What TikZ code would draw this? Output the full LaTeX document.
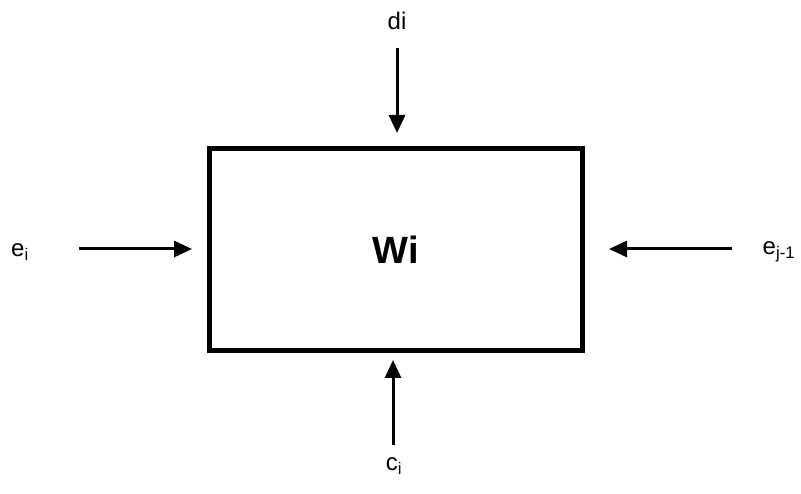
\documentclass[tikz,border=0pt]{standalone}
\usepackage{fontspec}
\setmainfont{Liberation Sans}
\usetikzlibrary{arrows.meta}
\tikzset{
  flow/.style={-{Triangle[length=18pt,width=16pt]}, line width=3pt},
  lbl/.style={font=\fontsize{24}{26}\selectfont, inner sep=0pt}
}
\begin{document}
\begin{tikzpicture}[x=1pt, y=-1pt]
    \useasboundingbox (0,0) rectangle (801,494);
    \node[draw, line width=5pt, minimum width=373pt, minimum height=202pt, inner sep=0pt,
          font=\fontsize{38}{40}\selectfont\bfseries] (box) at (396,249.5) {Wi};
    % labels
    \node[lbl] (di) at (397,21) {di};
    \node[lbl] (ci) at (394,466) {c\textsubscript{i}};
    \node[lbl] (ei) at (20,252) {e\textsubscript{i}};
    \node[lbl] (ej) at (779,252) {e\textsubscript{j-1}};
    % arrow ends
    \coordinate (din) at (397,48);
    \coordinate (cin) at (393,445);
    \coordinate (ein) at (79,249);
    \coordinate (ejn) at (732,249);
    \draw[flow, shorten >=13pt] (din) -- (din |- box.north);
    \draw[flow, shorten >=7pt] (cin) -- (cin |- box.south);
    \draw[flow, shorten >=15pt] (ein) -- (ein -| box.west);
    \draw[flow, shorten >=24pt] (ejn) -- (ejn -| box.east);
\end{tikzpicture}
\end{document}
